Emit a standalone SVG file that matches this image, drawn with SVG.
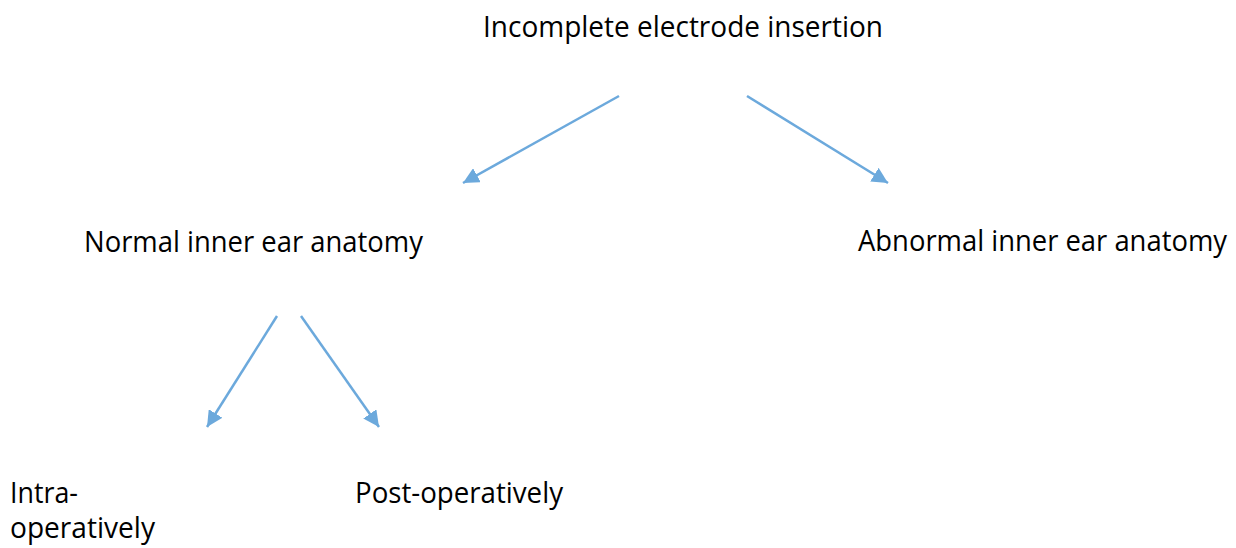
<svg xmlns="http://www.w3.org/2000/svg" width="1236" height="548" viewBox="0 0 1236 548">
  <style>
    .lbl { font-family: "Open Sans", "Liberation Sans", sans-serif; font-size: 29px; fill: #000; }
    .conn { stroke: #6CA9DC; stroke-width: 2.5; fill: none; marker-end: url(#ah); }
  </style>
  <defs>
    <marker id="ah" markerUnits="userSpaceOnUse" markerWidth="17" markerHeight="16" refX="16" refY="8" orient="auto">
      <path d="M0,0 L16,8 L0,16 Z" fill="#6CA9DC"/>
    </marker>
  </defs>
  <rect width="1236" height="548" fill="#fff"/>
  <g id="connectors">
    <line class="conn" x1="619" y1="96" x2="463" y2="183"/>
    <line class="conn" x1="747" y1="96" x2="888" y2="183"/>
    <line class="conn" x1="277" y1="316" x2="207" y2="427"/>
    <line class="conn" x1="301" y1="316" x2="379" y2="427"/>
  </g>
  <g id="node-root">
    <text class="lbl" x="483" y="37" textLength="400" lengthAdjust="spacingAndGlyphs">Incomplete electrode insertion</text>
  </g>
  <g id="node-normal">
    <text class="lbl" x="84" y="252" textLength="339" lengthAdjust="spacingAndGlyphs">Normal inner ear anatomy</text>
  </g>
  <g id="node-abnormal">
    <text class="lbl" x="858" y="251" textLength="369" lengthAdjust="spacingAndGlyphs">Abnormal inner ear anatomy</text>
  </g>
  <g id="node-intra">
    <text class="lbl"><tspan x="10" y="503" textLength="68" lengthAdjust="spacingAndGlyphs">Intra-</tspan><tspan x="10" y="538" textLength="145" lengthAdjust="spacingAndGlyphs">operatively</tspan></text>
  </g>
  <g id="node-post">
    <text class="lbl" x="355" y="503" textLength="208" lengthAdjust="spacingAndGlyphs">Post-operatively</text>
  </g>
</svg>
